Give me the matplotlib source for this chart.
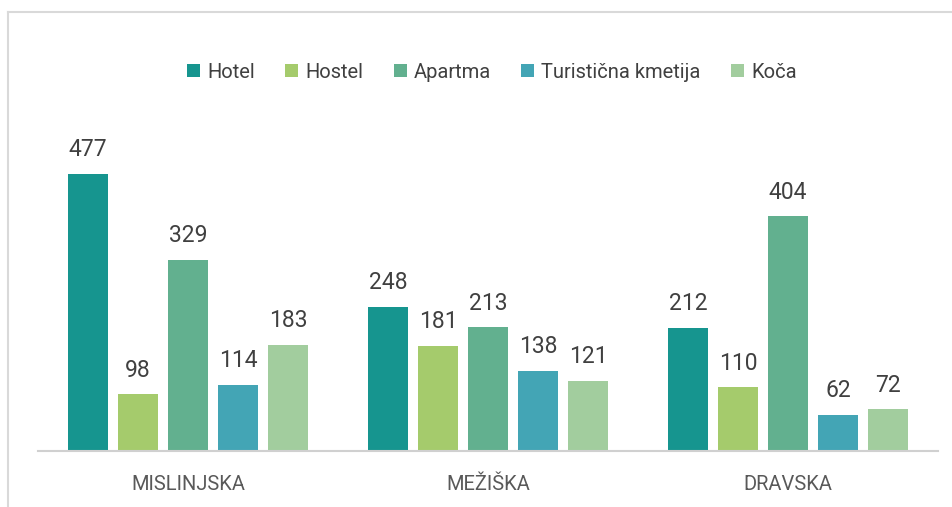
import matplotlib
matplotlib.use("Agg")
import matplotlib.pyplot as plt
from matplotlib.lines import Line2D
import numpy as np

plt.rcParams['font.family'] = ['Roboto', 'DejaVu Sans']

categories = ["MISLINJSKA", "MEŽIŠKA", "DRAVSKA"]
series_names = ["Hotel", "Hostel", "Apartma", "Turistična kmetija", "Koča"]
hotel = [477, 248, 212]
hostel = [98, 181, 110]
apartma = [329, 213, 404]
kmetija = [114, 138, 62]
koca = [183, 121, 72]
series_values = [hotel, hostel, apartma, kmetija, koca]
colors = ["#16958F", "#A5CB6C", "#62B08F", "#43A5B5", "#A2CD9E"]

W, H = 952, 507
fig = plt.figure(figsize=(W / 100, H / 100), dpi=100)
ymax = 600
px_per_unit = 0.581
ax_h = ymax * px_per_unit
ax = fig.add_axes([38 / W, 56 / H, 900 / W, ax_h / H])

x = np.arange(len(categories))
step = 50 / 300
width = 40 / 300
n = len(series_names)
for i, (name, vals, c) in enumerate(zip(series_names, series_values, colors)):
    pos = x + (i - (n - 1) / 2) * step
    bars = ax.bar(pos, vals, width=width, color=c, label=name, zorder=2)
    for b, v in zip(bars, vals):
        ax.annotate(str(v), (b.get_x() + b.get_width() / 2, v),
                    xytext=(0, 9), textcoords="offset points",
                    ha="center", va="bottom", fontsize=16.5, color="#404040")

ax.set_xlim(-0.5, 2.5)
ax.set_ylim(0, ymax)
ax.set_yticks([])
ax.set_xticks(x)
ax.set_xticklabels(categories, fontsize=14.5, color="#595959")
ax.tick_params(axis="x", length=0, pad=17)
for s in ["top", "right", "left"]:
    ax.spines[s].set_visible(False)
ax.spines["bottom"].set_color("#D0D0D0")
ax.spines["bottom"].set_linewidth(1.5)

leg = fig.legend(loc="center", bbox_to_anchor=(492 / W, 1 - 72 / H), ncol=5,
                 frameon=False, fontsize=14.5, handlelength=0.65, handleheight=0.65,
                 handletextpad=0.35, columnspacing=1.5, labelcolor="#404040")

# chart border (cropped at right/bottom)
fig.add_artist(Line2D([8 / W, 1.0], [1 - 12 / H, 1 - 12 / H], transform=fig.transFigure,
                      color="#D9D9D9", lw=1.5))
fig.add_artist(Line2D([8 / W, 8 / W], [0, 1 - 12 / H], transform=fig.transFigure,
                      color="#D9D9D9", lw=1.5))

fig.savefig("out.png", dpi=100)
